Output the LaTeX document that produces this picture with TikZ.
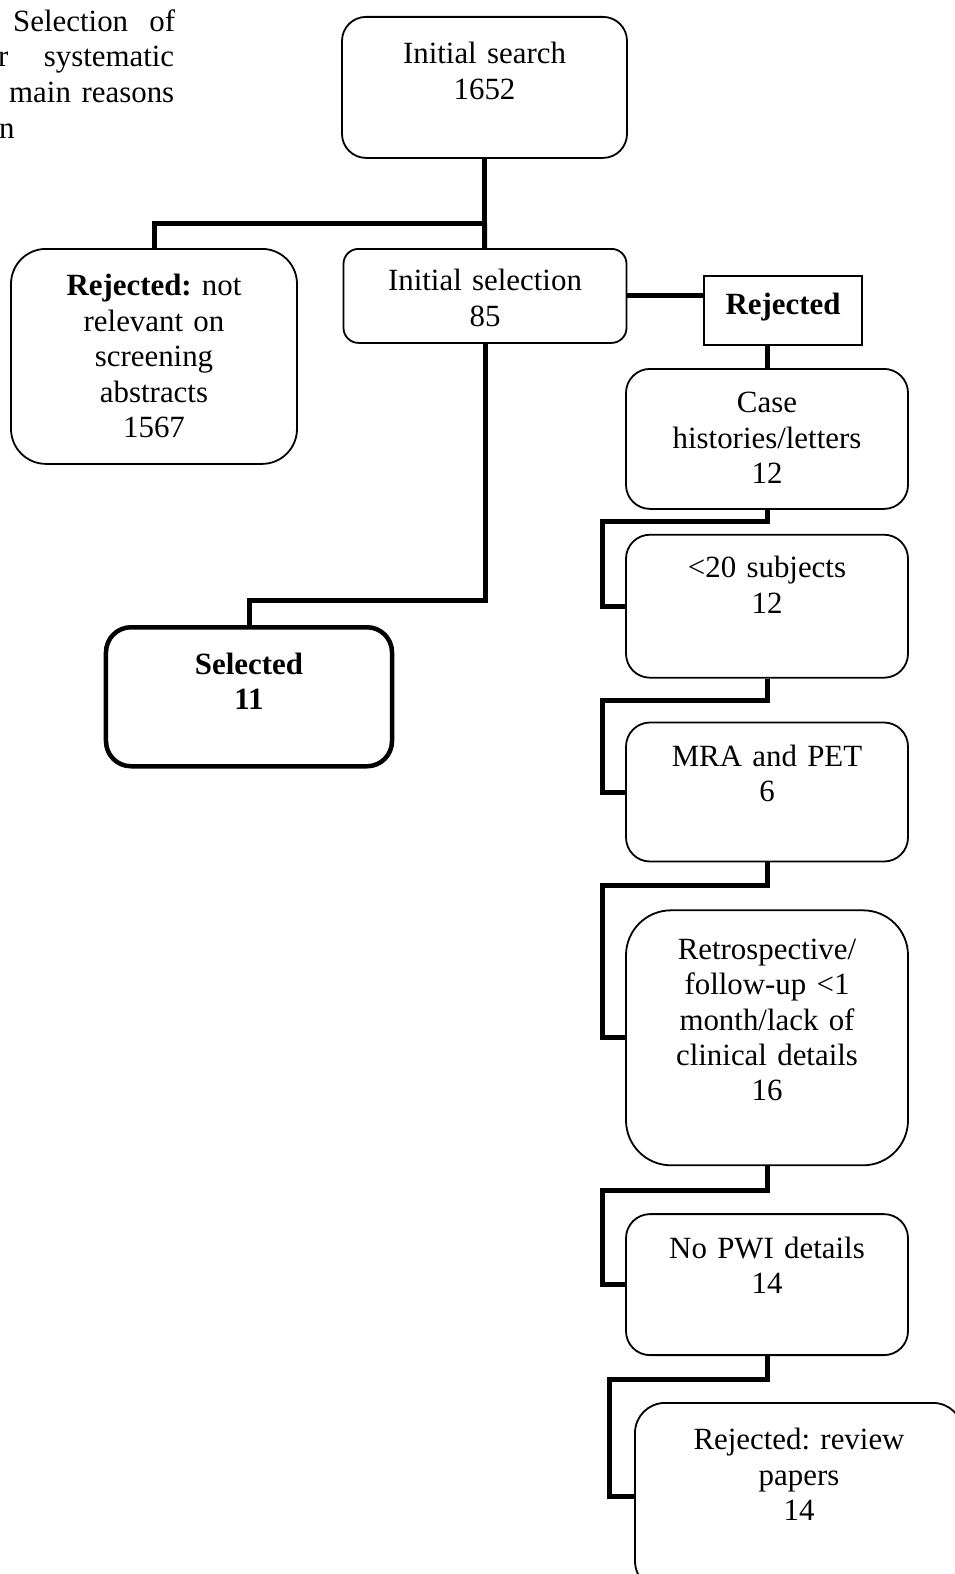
\documentclass[tikz,border=0pt]{standalone}
\usepackage{fontspec}
\setmainfont{Liberation Serif}
\usetikzlibrary{positioning}
\newcommand{\boxfont}{\fontsize{31}{35.5}\selectfont\frenchspacing}

\begin{document}
\begin{tikzpicture}[
    x=1bp, y=-1bp,
    rbox/.style={draw, line width=1.8bp, rounded corners=#1, align=center,
                 anchor=north, inner sep=0pt, font=\boxfont},
    rbox/.default=24bp,
    sqbox/.style={draw, line width=2bp, align=center, anchor=north,
                  inner sep=0pt, font=\boxfont\bfseries},
    capline/.style={anchor=base west, inner sep=0pt, font=\boxfont},
    link/.style={line width=5bp},
]
\useasboundingbox (0,0) rectangle (954,1574);

% caption, cut off at the left edge
\node[capline] (cap1) at (13,32) {\makebox[162bp][s]{Selection of}};
\node[capline] (cap2) at (-2,67) {\makebox[176bp][s]{r systematic}};
\node[capline] (cap3) at (9,103) {\makebox[165bp][s]{main reasons}};
\node[capline] (cap4) at (-1,139) {n};

\node[rbox, text width=285bp, text height=47bp, text depth=94bp] (search) at (484.5,16) {Initial search\\1652};
\node[rbox=35bp, text width=286bp, text height=47bp, text depth=168bp] (rejnr) at (154,248)
    {\textbf{Rejected:} not\\relevant on\\screening\\abstracts\\1567};
\node[rbox=15bp, text width=283bp, text height=42bp, text depth=52bp] (initsel) at (485,248) {Initial selection\\85};
\node[sqbox, text width=158bp, text height=38bp, text depth=31bp] (rej) at (783,275) {Rejected};
\node[rbox=25bp, line width=4.5bp, font=\boxfont\bfseries, text width=286bp, text height=47bp, text depth=92bp] (sel) at (249,625) {Selected\\11};

% reasons for rejection
\node[rbox, text width=282bp, text height=44bp, text depth=96bp] (case) at (767,368) {Case\\histories/letters\\12};
\node[rbox, text width=282bp, text height=43bp, text depth=100bp, below=24bp of case] (lt20) {<20 subjects\\12};
\node[rbox, text width=282bp, text height=44bp, text depth=95bp, below=43bp of lt20] (mra) {MRA and PET\\6};
\node[rbox=45bp, text width=282bp, text height=49bp, text depth=206bp, below=47bp of mra] (retro)
    {Retrospective/\\follow-up <1\\month/lack of\\clinical details\\16};
\node[rbox, text width=282bp, text height=44bp, text depth=97bp, below=47bp of retro] (nopwi) {No PWI details\\14};
\node[rbox=30bp, text width=328bp, text height=47bp, text depth=141bp, below=46bp of nopwi, xshift=32bp] (review)
    {Rejected: review\\papers\\14};

\coordinate (split) at (484.5,223);
\draw[link] (search) -- (split) -| (rejnr);
\draw[link] (split) -- (initsel);
\draw[link] (initsel.south) -- ++(0,257) -| (sel);
\draw[link] (initsel.east) -- (initsel.east -| rej.west);
\draw[link] (rej.south -| case.north) -- (case.north);
\draw[link] (case.south) -- ++(0,12) -| ([xshift=-23bp]lt20.west) -- (lt20.west);
\draw[link] (lt20.south) -- ++(0,22) -| ([xshift=-23bp]mra.west) -- (mra.west);
\draw[link] (mra.south) -- ++(0,23) -| ([xshift=-23bp]retro.west) -- (retro.west);
\draw[link] (retro.south) -- ++(0,24) -| ([xshift=-23bp]nopwi.west) -- (nopwi.west);
\draw[link] (nopwi.south) -- ++(0,23) -| ([xshift=-25bp]review.west) -- (review.west);

\end{tikzpicture}
\end{document}
